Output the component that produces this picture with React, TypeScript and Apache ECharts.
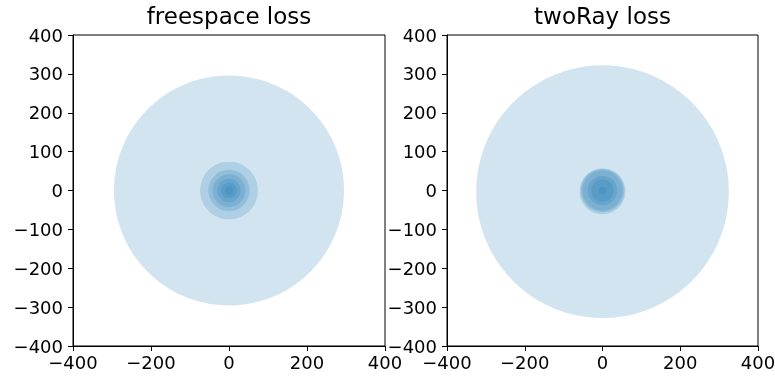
import React, { useEffect, useRef } from "react";
import * as echarts from "echarts";

// Data
const titles = ["freespace loss", "twoRay loss"];
const sourceX = [0, 0];
const sourceY = [0, 0];
const freespaceRadii = [295, 74, 53, 42, 30, 20, 10];
const twoRayRadii = [325, 59, 56, 52, 38, 29, 10];
const axisMin = -400;
const axisMax = 400;
const xTickInterval = 200;
const yTickInterval = 100;

const FONT = "DejaVu Sans";
const fmt = (v: number) => String(v).replace("-", "\u2212");

export default function App() {
  const ref = useRef<HTMLDivElement>(null);
  useEffect(() => {
    if (!ref.current) return;
    const chart = echarts.init(ref.current, null, { renderer: "svg" });
    const grids = [
      { left: 73, top: 35, width: 312, height: 311 },
      { left: 447, top: 35, width: 311, height: 311 },
    ];
    const radiiSets = [freespaceRadii, twoRayRadii];
    const axisCommon = {
      type: "value" as const,
      min: axisMin,
      max: axisMax,
      axisLine: { show: true, onZero: false, lineStyle: { color: "#000", width: 1 } },
      axisTick: { show: true, inside: false, length: 5, lineStyle: { color: "#000", width: 1 } },
      splitLine: { show: false },
      axisLabel: {
        color: "#000",
        fontFamily: FONT,
        fontSize: 18,
        formatter: fmt,
        showMinLabel: true,
        showMaxLabel: true,
        hideOverlap: false,
      },
    };
    chart.setOption({
      animation: false,
      grid: grids.map((g) => ({
        ...g,
        show: true,
        containLabel: false,
        outerBoundsMode: "none",
        borderColor: "#000",
        borderWidth: 1,
        backgroundColor: "transparent",
      })),
      xAxis: grids.map((_, i) => ({
        ...axisCommon,
        gridIndex: i,
        interval: xTickInterval,
        axisLabel: { ...axisCommon.axisLabel, margin: 7 },
      })),
      yAxis: grids.map((_, i) => ({
        ...axisCommon,
        gridIndex: i,
        interval: yTickInterval,
        axisLabel: { ...axisCommon.axisLabel, margin: 10 },
      })),
      series: radiiSets.map((radii, i) => ({
        type: "custom",
        xAxisIndex: i,
        yAxisIndex: i,
        clip: true,
        data: radii.map((r) => [sourceX[i], sourceY[i], r]),
        renderItem: (params: any, api: any) => {
          const c = api.coord([api.value(0), api.value(1)]);
          const s = api.size([api.value(2), api.value(2)]);
          return {
            type: "circle",
            shape: { cx: c[0], cy: c[1], r: s[0] },
            style: { fill: "rgba(31,119,180,0.2)" },
          };
        },
      })),
      graphic: grids.map((g, i) => ({
        type: "text",
        x: g.left + g.width / 2,
        y: 16,
        style: {
          text: titles[i],
          fontFamily: FONT,
          fontSize: 23,
          fill: "#000",
          textAlign: "center",
          textVerticalAlign: "middle",
        },
      })),
    });
    return () => chart.dispose();
  }, []);
  return (
    <div
      ref={ref}
      style={{ position: "fixed", left: 0, top: 0, width: 775, height: 379 }}
    />
  );
}
